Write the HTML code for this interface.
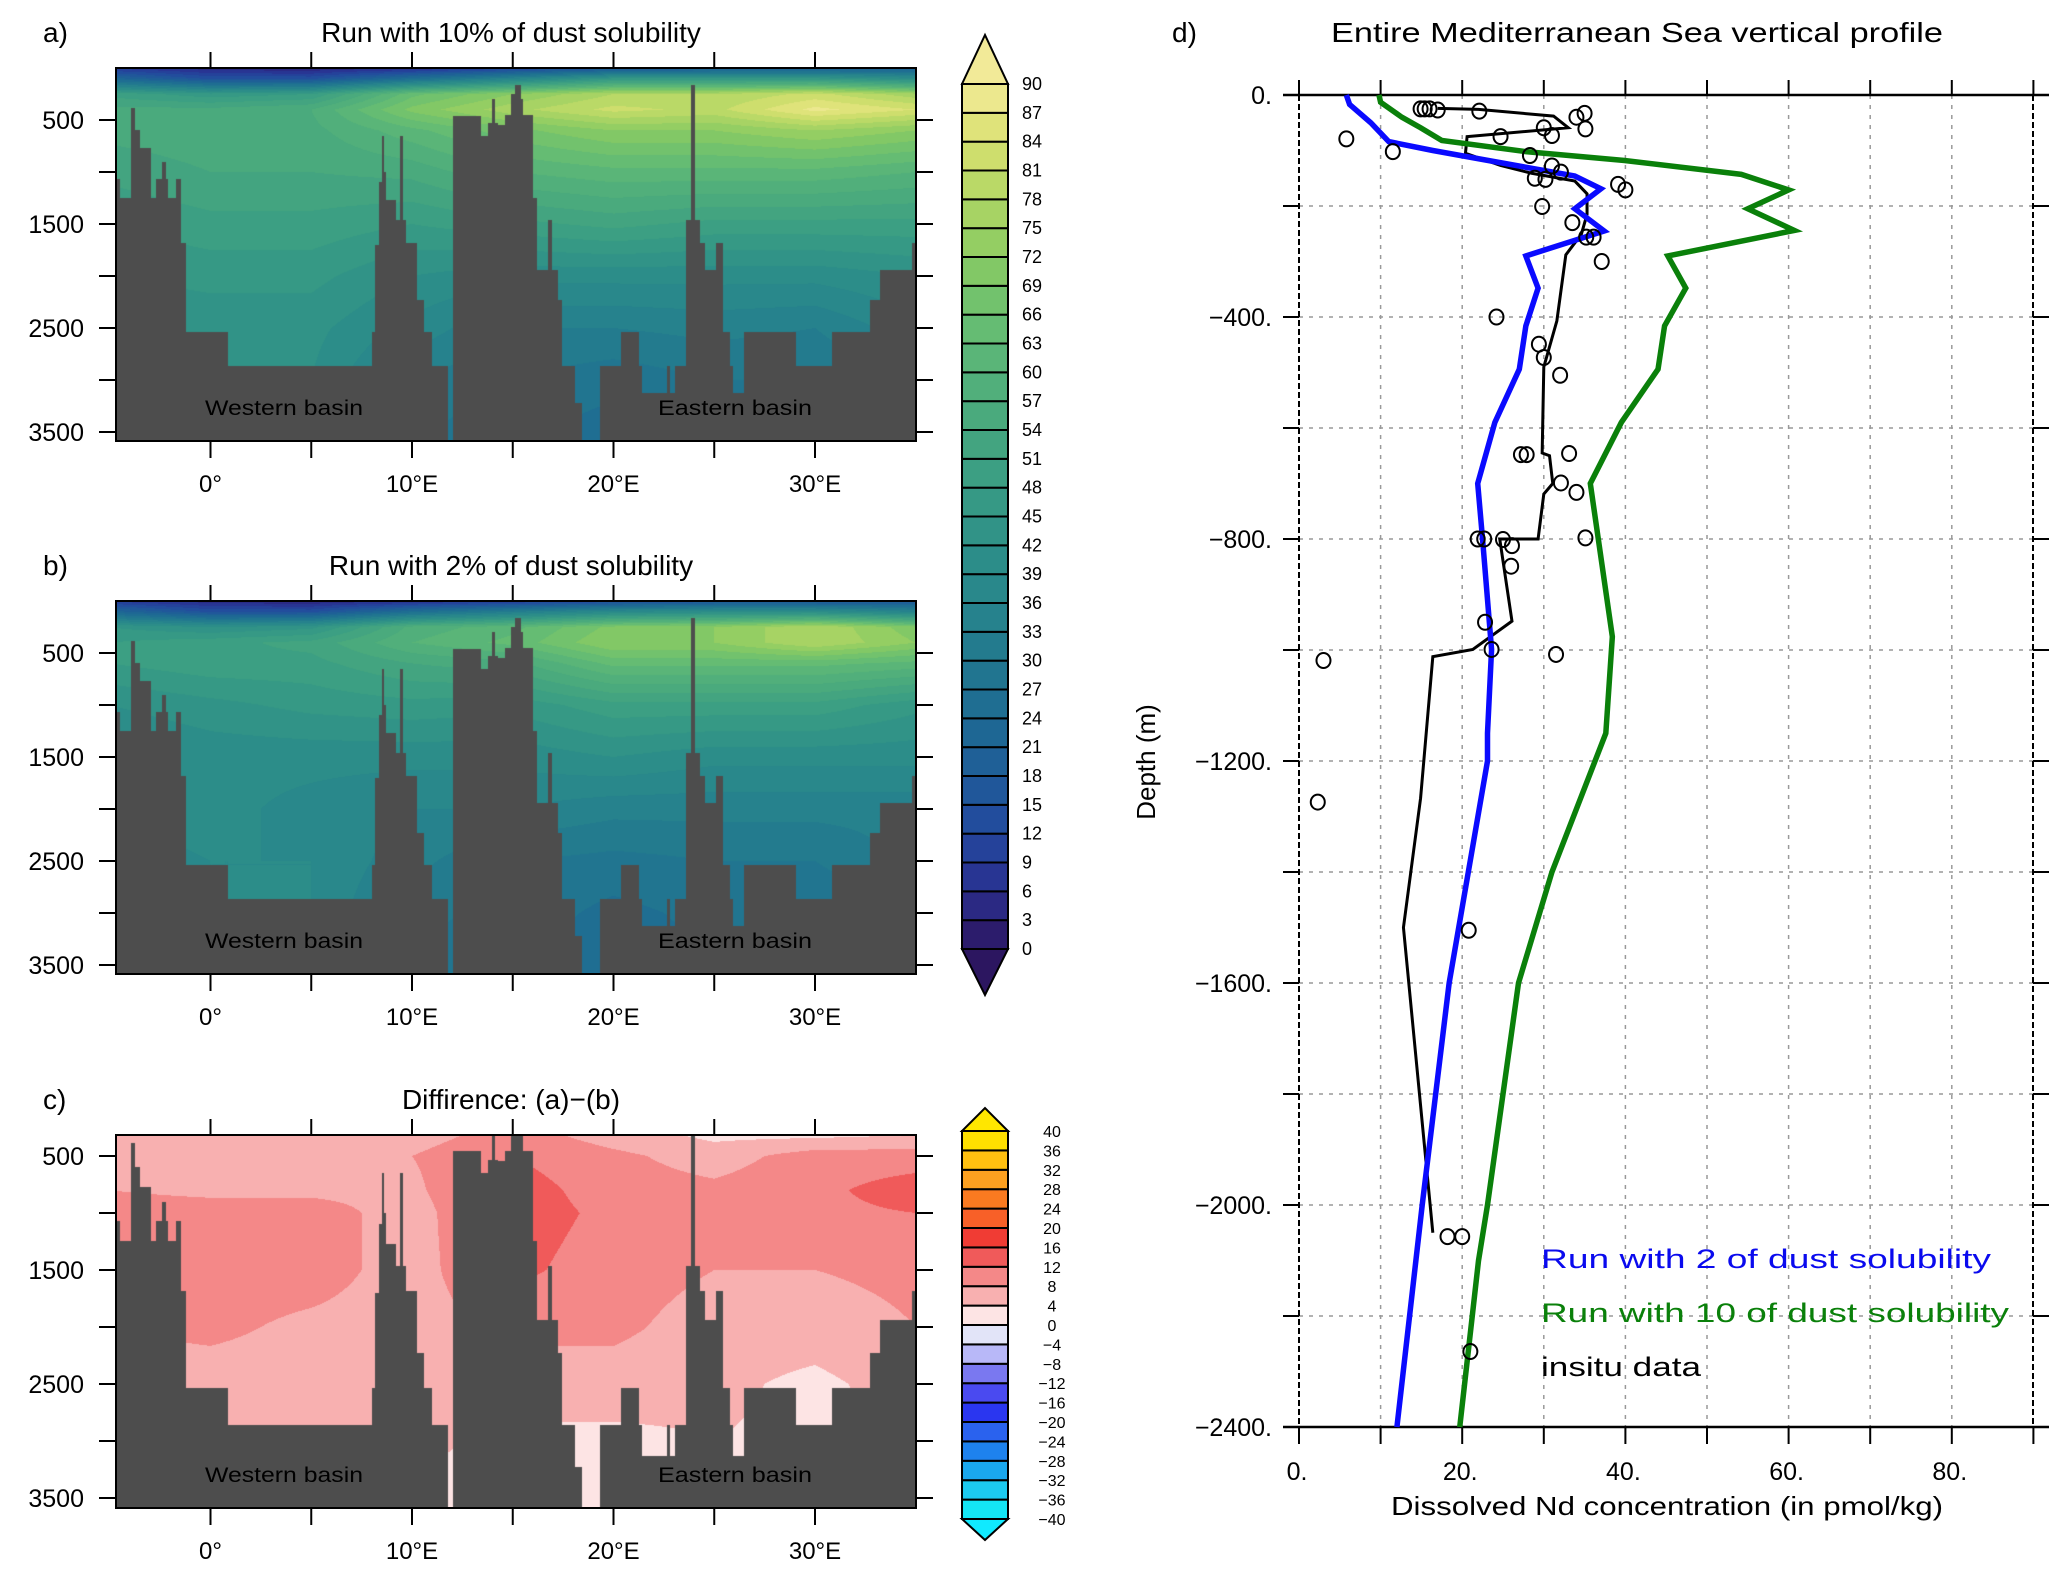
<!DOCTYPE html>
<html><head><meta charset="utf-8">
<style>
html,body{margin:0;padding:0;background:#fff;}
#wrap{position:relative;width:2067px;height:1578px;overflow:hidden;background:#fff;}
canvas{position:absolute;}
svg{position:absolute;left:0;top:0;}
text{font-family:"Liberation Sans",sans-serif;fill:#000;}
</style></head>
<body>
<div id="wrap">
<canvas id="ca" width="800" height="373" style="left:116px;top:68px"></canvas>
<canvas id="cb" width="800" height="373" style="left:116px;top:601px"></canvas>
<canvas id="cc" width="800" height="373" style="left:116px;top:1135px"></canvas>
<svg id="svg" width="2067" height="1578" xmlns="http://www.w3.org/2000/svg"></svg>
</div>
<script>
// ---- section data ----
const secLons = [-5,0,5,10,15,20,25,30,35];
const depthsAB = [0,100,250,400,600,1000,1500,2000,2500,3000,3600];
const valsA = [
 [8,4,3,5,10,15,18,18,20],
 [22,14,14,25,35,45,45,45,40],
 [50,46,48,65,72,78,78,82,76],
 [55,55,57,70,77,82,80,88,84],
 [55,56,56,62,68,72,72,75,72],
 [52,54,54,55,60,62,62,62,60],
 [48,50,50,48,50,52,50,50,50],
 [45,46,46,42,40,40,40,40,42],
 [42,43,43,38,33,33,34,33,38],
 [40,42,42,33,30,28,30,30,32],
 [38,40,40,30,27,25,28,28,30]];
const valsB = [
 [8,4,3,5,8,12,15,15,16],
 [22,14,14,25,32,38,40,40,35],
 [45,42,44,58,62,70,72,78,70],
 [48,50,52,60,64,72,72,78,72],
 [48,50,50,54,56,64,64,64,62],
 [42,44,46,47,46,50,50,50,46],
 [38,40,40,40,40,42,40,40,40],
 [39,40,38,36,36,34,34,34,34],
 [38,39,39,34,30,29,30,30,34],
 [37,39,39,31,29,26,28,27,29],
 [36,38,38,29,27,24,27,26,28]];
const depthsC = [316,500,800,1000,1500,2000,2500,3000,3600];
const valsC = [
 [4,4,4,6,10,6,3,3,4],
 [6,6,6,8,12,9,6,10,10],
 [8,7,7,7,14,10,9,11,14],
 [10,10,10,6,14,11,10,11,12],
 [10,10,10,6,13,10,8,8,9],
 [8,9,7,6,9,9,6,6,8],
 [6,6,6,6,6,6,5,3,6],
 [5,5,5,5,3,3,4,3,4],
 [4,4,4,3,2,2,2,2,3]];
const floorLon = [-4.75,-4.48,-3.95,-3.75,-3.48,-2.96,-2.72,-2.40,-2.2,-2.09,-1.73,-1.46,-1.22,0.87,8.01,8.15,8.36,8.5,8.6,8.71,9.23,9.40,9.55,9.68,10.27,10.62,10.97,11.77,12.02,13.41,13.76,13.95,14.11,14.28,14.63,14.9,15.1,15.4,15.49,16.02,16.19,16.75,16.95,17.24,17.42,18.11,18.46,19.33,20.37,21.25,21.42,22.64,22.80,23.06,23.61,23.85,24.03,24.31,24.56,25.08,25.43,25.77,25.95,26.47,26.99,29.08,30.82,32.73,33.25,34.82];
const floorDepth = [1067,1246,388,600,772,1246,1067,907,1067,1246,1067,1686,2535,2862,2535,1700,1100,650,1000,1269,1461,650,1461,1686,2231,2535,2862,3593,458,650,532,300,532,548,452,250,163,300,452,1246,1942,1461,1942,2231,2862,3224,3593,2862,2535,2862,3128,2862,3128,2862,1461,163,1461,1686,1942,1686,2535,2862,3128,2535,2535,2862,2535,2231,1942,1686];

// ---- profile data (panel d) ----
const blueDepth=[0,17,50,84,100,118,146,169,205,245,290,348,416,494,590,700,801,999,1150,1200,1600,2000,2400];
const blueConc=[5.8,6.2,8.8,11,16.4,23.2,33.8,37,33.8,37.4,27.8,29.3,27.8,27,24,21.9,22.5,23.6,23.1,23.1,18.4,15.1,12.0];
const greenDepth=[0,13,40,59,82,102,118,143,171,205,244,290,348,416,494,590,700,976,1150,1400,1600,2000,2100,2400];
const greenConc=[9.8,10,12.6,14.9,17.5,27.8,39.9,54.2,60,55,60.7,45.2,47.4,44.8,44,39.5,35.7,38.4,37.6,31,26.9,23.1,22,19.7];
const blackDepth=[24,26,38,59,75,105,127,141,155,178,215,251,288,407,490,645,650,700,719,800,800,948,999,1012,1267,1500,2050];
const blackConc=[17,22,31.2,33,20.6,20.4,24.7,28.5,33.8,35.3,35.3,34.6,32.7,31.6,30,29.8,30.7,31.1,30,29.3,24.6,26.1,21.3,16.4,14.9,12.8,16.4];
const obsDepth=[25,25,25,27,29,33,40,61,59,73,75,79,102,109,128,139,150,152,161,171,201,230,256,256,300,400,449,473,505,648,648,646,699,716,800,800,801,812,798,849,950,999,1008,1019,1274,1505,2057,2057,2264];
const obsConc=[14.9,15.4,16,17,22.1,35,34,35.1,30,31,24.7,5.8,11.5,28.3,31,32.1,28.9,30.2,39.1,40,29.8,33.5,35.2,36.1,37.1,24.2,29.4,30,32,27.2,27.9,33.1,32.1,34,21.9,22.7,25,26.1,35.1,26,22.8,23.6,31.5,3,2.3,20.8,18.2,20,21];
const xTickVals=[0,20,40,60,80];
const yTickVals=[0,400,800,1200,1600,2000,2400];

// ---- colours ----
const stopsA=[[0,'#2c1660'],[6,'#2a2f8f'],[12,'#23489e'],[18,'#1f5c98'],[24,'#1e6b93'],[30,'#22788f'],[36,'#27858c'],[42,'#2e9088'],[48,'#389c84'],[54,'#46a77e'],[60,'#55b27a'],[66,'#6abf70'],[72,'#8acb62'],[78,'#b0d664'],[84,'#d8e070'],[90,'#f2ea98']];
const diffCols=['#14e6f5','#1ccaf0','#1aa8ee','#1e82ee','#2a62ee','#2a36f0','#4a4af0','#7a78f0','#b8b8f8','#e2e4f8','#fde4e4','#f8b0b0','#f48888','#f05a5a','#f03c34','#f86028','#fa7a20','#fca020','#ffc010','#ffe000'];
function hex(c){return [parseInt(c.substr(1,2),16),parseInt(c.substr(3,2),16),parseInt(c.substr(5,2),16)];}
function colA(v){v=Math.max(0,Math.min(90,v));for(let i=0;i<stopsA.length-1;i++){const[a,ca]=stopsA[i],[b,cb]=stopsA[i+1];if(v<=b){const t=(v-a)/(b-a),x=hex(ca),y=hex(cb);return x.map((q,k)=>Math.round(q+(y[k]-q)*t));}}return hex('#f2ea98');}
function colAhex(v){const c=colA(v);return 'rgb('+c.join(',')+')';}

// ---- axis helpers ----
const lonX = lon => 210.5 + lon*20.15;
function floorAt(lon){let d=0;if(lon<floorLon[0])return 0;for(let i=0;i<floorLon.length;i++){if(lon>=floorLon[i])d=floorDepth[i];}if(lon>35)return 0;return d;}
function interp(depths,vals,lon,d){
  let li=Math.max(0,Math.min(secLons.length-2,Math.floor((lon-secLons[0])/5)));
  let tl=Math.max(0,Math.min(1,(lon-secLons[li])/5));
  let di=0;while(di<depths.length-2&&d>depths[di+1])di++;
  let td=Math.max(0,Math.min(1,(d-depths[di])/(depths[di+1]-depths[di])));
  const a=vals[di][li]*(1-tl)+vals[di][li+1]*tl, b=vals[di+1][li]*(1-tl)+vals[di+1][li+1]*tl;
  return a*(1-td)+b*td;
}
function drawField(id,depths,vals,d0,pxPerM,isDiff){
  const cv=document.getElementById(id),ctx=cv.getContext('2d');
  const img=ctx.createImageData(800,373);const gray=[77,77,77];
  for(let px=0;px<800;px++){
    const lon=(116+px+0.5-210.5)/20.15, fl=floorAt(lon);
    for(let py=0;py<373;py++){
      const d=d0+(py+0.5)/pxPerM;let c;
      if(d>fl)c=gray;else{
        const v=interp(depths,vals,lon,d);
        if(isDiff){let k=Math.floor((v+40)/4);k=Math.max(0,Math.min(19,k));c=hex(diffCols[k]);}
        else{c=colA(Math.floor(v/3)*3+1.5);}
      }
      const o=(py*800+px)*4;img.data[o]=c[0];img.data[o+1]=c[1];img.data[o+2]=c[2];img.data[o+3]=255;
    }
  }
  ctx.putImageData(img,0,0);
}
drawField('ca',depthsAB,valsA,0,0.104,false);
drawField('cb',depthsAB,valsB,0,0.104,false);
drawField('cc',depthsC,valsC,316,0.114,true);

// ---- SVG ----
const NS='http://www.w3.org/2000/svg';const svg=document.getElementById('svg');
function el(t,a,p){const e=document.createElementNS(NS,t);for(const k in a)e.setAttribute(k,a[k]);(p||svg).appendChild(e);return e;}
function txt(s,a,p){const e=el('text',a,p);e.textContent=s;return e;}

function sectionPanel(T,yOf,letter,title,name){
  const g=el('g',{});
  
  
  const L=116,R=916,B=T+373;
  el('rect',{x:L,y:T,width:R-L,height:B-T,fill:'none',stroke:'#000','stroke-width':2},g);
  [0,5,10,15,20,25,30].forEach(l=>{const x=lonX(l);
    el('line',{x1:x,x2:x,y1:T-16,y2:T,stroke:'#000','stroke-width':2},g);
    el('line',{x1:x,x2:x,y1:B,y2:B+17,stroke:'#000','stroke-width':2},g);});
  [0,10,20,30].forEach(l=>{const t=txt(l===0?'0°':l+'°E',{x:lonX(l),y:492+(T-68),'font-size':24,'text-anchor':'middle'},g);
    });
  [500,1000,1500,2000,2500,3000,3500].forEach(d=>{const y=yOf(d);
    el('line',{x1:L-17,x2:L,y1:y,y2:y,stroke:'#000','stroke-width':2},g);
    el('line',{x1:R,x2:R+17,y1:y,y2:y,stroke:'#000','stroke-width':2},g);
    if(d%1000===500){const t=txt(String(d),{x:84,y:y+9,'font-size':25,'text-anchor':'end'},g);
      }});
  const tt=txt(title,{x:511,y:T-26,'font-size':28,'text-anchor':'middle'},g);
  
  const lt=txt(letter,{x:43,y:T-26,'font-size':28},g);
  
  const w=txt('Western basin',{x:205,y:T+347,'font-size':21,textLength:158,lengthAdjust:'spacingAndGlyphs'},g);
  
  const e=txt('Eastern basin',{x:658,y:T+347,'font-size':21,textLength:154,lengthAdjust:'spacingAndGlyphs'},g);
  
}
sectionPanel(68,d=>68+d*0.104,'a)','Run with 10% of dust solubility','panel-a');
sectionPanel(601,d=>601+d*0.104,'b)','Run with 2% of dust solubility','panel-b');
sectionPanel(1135,d=>1156+(d-500)*0.114,'c)','Diffirence: (a)−(b)','panel-c');

// colorbar A
const cbALevels=[];for(let v=0;v<=90;v+=3)cbALevels.push(v);
(function(){
  const g=el('g',{});
  const x0=962,x1=1008,yTop=84,yBot=949,n=cbALevels.length-1,h=(yBot-yTop)/n;
  for(let i=0;i<n;i++){const y=yBot-(i+1)*h;el('rect',{x:x0,y:y,width:x1-x0,height:h,fill:colAhex(cbALevels[i]+1.5),stroke:'#000','stroke-width':2},g);}
  el('polygon',{points:`${x0},${yTop} ${x1},${yTop} ${(x0+x1)/2},35`,fill:'#f2ea98',stroke:'#000','stroke-width':2},g);
  el('polygon',{points:`${x0},${yBot} ${x1},${yBot} ${(x0+x1)/2},995`,fill:'#2c1660',stroke:'#000','stroke-width':2},g);
  cbALevels.forEach((v,i)=>{const t=txt(String(v),{x:1022,y:yBot-i*h+6,'font-size':18},g);});
})();
// colorbar C
const cbCLevels=[];for(let v=-40;v<=40;v+=4)cbCLevels.push(v);
(function(){
  const g=el('g',{});
  const x0=962,x1=1008,yTop=1131,yBot=1519,n=20,h=(yBot-yTop)/n;
  for(let i=0;i<n;i++){const y=yBot-(i+1)*h;el('rect',{x:x0,y:y,width:x1-x0,height:h,fill:diffCols[i],stroke:'#000','stroke-width':2},g);}
  el('polygon',{points:`${x0},${yTop} ${x1},${yTop} ${(x0+x1)/2},1108`,fill:'#ffe600',stroke:'#000','stroke-width':2},g);
  el('polygon',{points:`${x0},${yBot} ${x1},${yBot} ${(x0+x1)/2},1540`,fill:'#10eaff',stroke:'#000','stroke-width':2},g);
  cbCLevels.forEach((v,i)=>{const t=txt(v<0?'−'+(-v):String(v),{x:1052,y:yBot-i*h+6,'font-size':16,'text-anchor':'middle'},g);});
})();

// ---- panel d ----
const DL=1299,DR=2033,DT=95,DB=1427;
const X=c=>DL+c*8.16, Y=d=>DT+d*0.555;
(function(){
  const g=el('g',{});
  for(let c=10;c<90;c+=10)el('line',{x1:X(c),x2:X(c),y1:DT,y2:DB,stroke:'#999','stroke-width':1.5,'stroke-dasharray':'4 6'},g);
  for(let d=200;d<2400;d+=200)el('line',{x1:DL,x2:DR,y1:Y(d),y2:Y(d),stroke:'#999','stroke-width':1.5,'stroke-dasharray':'4 6'},g);
  el('line',{x1:DL,x2:DL,y1:DT,y2:DB,stroke:'#000','stroke-width':2,'stroke-dasharray':'6 3'},g);
  el('line',{x1:DR,x2:DR,y1:DT,y2:DB,stroke:'#000','stroke-width':2,'stroke-dasharray':'6 3'},g);
  el('line',{x1:DL-16,x2:DR+16,y1:DT,y2:DT,stroke:'#000','stroke-width':2.5},g);
  el('line',{x1:DL-16,x2:DR+16,y1:DB,y2:DB,stroke:'#000','stroke-width':2.5},g);
  for(let c=0;c<=90;c+=10){el('line',{x1:X(c),x2:X(c),y1:DT-15,y2:DT,stroke:'#000','stroke-width':2},g);el('line',{x1:X(c),x2:X(c),y1:DB,y2:DB+17,stroke:'#000','stroke-width':2},g);}
  for(let d=0;d<=2400;d+=200){el('line',{x1:DL-16,x2:DL,y1:Y(d),y2:Y(d),stroke:'#000','stroke-width':2},g);el('line',{x1:DR,x2:DR+16,y1:Y(d),y2:Y(d),stroke:'#000','stroke-width':2},g);}
  xTickVals.forEach(c=>{const t=txt(c+'.',{x:X(c)-2,y:1480,'font-size':25,'text-anchor':'middle'},g);});
  yTickVals.forEach(d=>{const t=txt(d===0?'0.':'−'+d+'.',{x:1272,y:Y(d)+9,'font-size':25,'text-anchor':'end'},g);});
  const xt=txt('Dissolved Nd concentration (in pmol/kg)',{x:1667,y:1515,'font-size':26,'text-anchor':'middle',textLength:552,lengthAdjust:'spacingAndGlyphs'},g);
  const yt=txt('Depth (m)',{x:0,y:0,'font-size':26,'text-anchor':'middle',transform:'translate(1155,762) rotate(-90)'},g);
  const tt=txt('Entire Mediterranean Sea vertical profile',{x:1637,y:42,'font-size':28,'text-anchor':'middle',textLength:612,lengthAdjust:'spacingAndGlyphs'},g);
  const lt=txt('d)',{x:1172,y:42,'font-size':28},g);
  function line(ds,cs,col,w,nm){const p=el('polyline',{points:ds.map((d,i)=>X(cs[i])+','+Y(d)).join(' '),fill:'none',stroke:col,'stroke-width':w,'stroke-linejoin':'miter'},g);}
  line(blackDepth,blackConc,'#000',3,'insitu-mean-line');
  line(greenDepth,greenConc,'#0a800a',5.5,'run-10pct-line');
  line(blueDepth,blueConc,'#0a0aff',5.5,'run-2pct-line');
  obsDepth.forEach((d,i)=>{const c=el('ellipse',{cx:X(obsConc[i]),cy:Y(d),rx:7,ry:7.5,fill:'none',stroke:'#000','stroke-width':2},g);});
  const l1=txt('Run with 2   of dust solubility',{x:1541,y:1268,'font-size':27,style:'fill:#0a0aee',textLength:450,lengthAdjust:'spacingAndGlyphs'},g);
  const l2=txt('Run with 10   of dust solubility',{x:1541,y:1322,'font-size':27,style:'fill:#0a800a',textLength:468,lengthAdjust:'spacingAndGlyphs'},g);
  const l3=txt('insitu data',{x:1541,y:1376,'font-size':27,textLength:160,lengthAdjust:'spacingAndGlyphs'},g);
})();
</script>
</body></html>
